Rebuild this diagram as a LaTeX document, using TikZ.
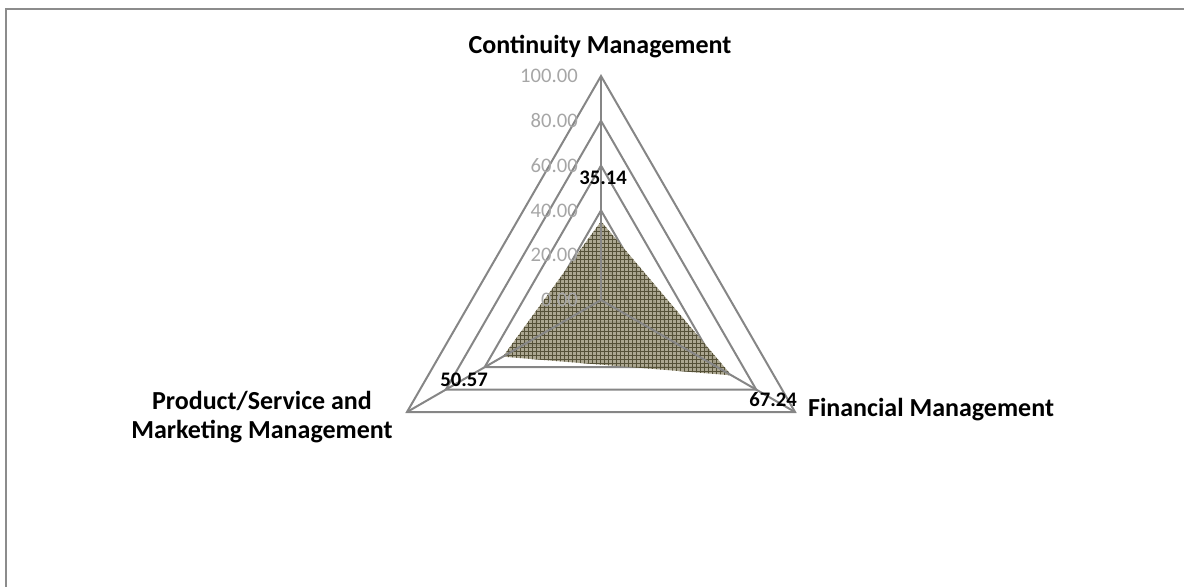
\documentclass[tikz,border=0pt]{standalone}
\usepackage{fontspec}
\setmainfont{Carlito}
\usetikzlibrary{patterns}
\definecolor{gridgray}{RGB}{134, 134, 134}
\definecolor{ticklabel}{RGB}{166, 166, 166}
\definecolor{framegray}{RGB}{140, 140, 140}
\definecolor{areafill}{RGB}{160, 155, 130}
\definecolor{areahatch}{RGB}{85, 81, 56}

\begin{document}
\begin{tikzpicture}[x=0.75pt, y=-0.75pt,
    gridline/.style={draw=gridgray, line width=1.5pt, line join=miter},
    axislabel/.style={font=\fontsize{19.5}{20}\selectfont\bfseries, align=center, inner sep=0pt},
    valuelabel/.style={font=\fontsize{15.5}{16}\selectfont\bfseries, inner sep=0pt},
    ticktext/.style={font=\fontsize{15.5}{16}\selectfont, text=ticklabel, anchor=east, inner sep=0pt}]

    % page size and chart frame (only top and left edge visible)
    \useasboundingbox (0,0) rectangle (1184,587);
    \draw[framegray, line width=1.5pt] (1184,9) -- (6,9) -- (6,587);

    \begin{scope}[shift={(601,300)}, yscale=-1]
        % axis end points (value 100)
        \coordinate (O) at (0,0);
        \coordinate (CM) at (90:224);
        \coordinate (FM) at (-30:224);
        \coordinate (PM) at (210:224);

        % grid triangles
        \foreach \v in {20,40,60,80,100} {
            \draw[gridline] (90:2.24*\v) -- (-30:2.24*\v) -- (210:2.24*\v) -- cycle;
        }

        % data area
        \coordinate (dCM) at (90:2.24*35.14);
        \coordinate (dFM) at (-30:2.24*67.24);
        \coordinate (dPM) at (210:2.24*50.57);
        \fill[areafill, fill opacity=0.88, postaction={pattern=grid, pattern color=areahatch}]
            (dCM) -- (dFM) -- (dPM) -- cycle;

        % spokes
        \draw[gridline] (O) -- (CM);
        \draw[gridline] (O) -- (FM);
        \draw[gridline] (O) -- (PM);

        % tick labels
        \foreach \v in {0,20,40,60,80,100} {
            \node[ticktext] (tick\v) at (-23,2.24*\v) {\v.00};
        }
    \end{scope}

    % category labels
    \node[axislabel] (labCM) at (600,47) {Continuity Management};
    \node[axislabel] (labFM) at (931,410) {Financial Management};
    \node[axislabel] (labPM) at (262,417) {Product/Service and\\[2pt]Marketing Management};

    % data labels
    \node[valuelabel] (valCM) at (603,178) {35.14};
    \node[valuelabel] (valFM) at (773,400) {67.24};
    \node[valuelabel] (valPM) at (464,380) {50.57};
\end{tikzpicture}
\end{document}
